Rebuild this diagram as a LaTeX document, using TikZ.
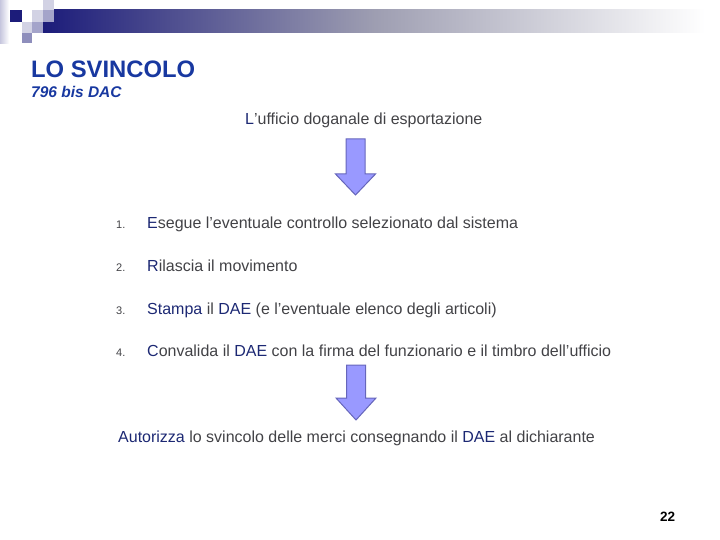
\documentclass[tikz,border=0pt]{standalone}
\usepackage{fontspec}
\setmainfont{Liberation Sans}
\usetikzlibrary{positioning}

\definecolor{titleblue}{RGB}{24,56,160}
\definecolor{keyblue}{RGB}{28,40,115}
\definecolor{bodygray}{RGB}{66,66,70}
\definecolor{bandnavy}{RGB}{28,28,122}
\definecolor{arrowfill}{RGB}{153,153,255}
\definecolor{arrowline}{RGB}{102,102,187}
\newcommand{\hl}[1]{\textcolor{keyblue}{#1}}

\begin{document}
\begin{tikzpicture}[x=1pt,y=-1pt,
						every node/.style={inner sep=0pt,anchor=base west,text=bodygray},
						body/.style={font=\fontsize{16}{19}\selectfont},
						num/.style={font=\fontsize{11}{13}\selectfont},
						blockarrow/.style={fill=arrowfill,draw=arrowline,line width=1pt,line join=miter}
						]
						\useasboundingbox (0,0) rectangle (720,540);
						% header band and squares
						\shade[left color=bandnavy,right color=white,middle color=bandnavy!35!gray!60] (43,10) rectangle (705,33);
						\shade[left color=bandnavy!25,right color=white] (0,0) rectangle (9,44);
						\fill[bandnavy] (10,10) rectangle (22,22);
						\fill[bandnavy!20] (32,10) rectangle (43,22);
						\fill[bandnavy!20] (43,0) rectangle (54,10);
						\fill[bandnavy!40] (43,10) rectangle (54,22);
						\fill[bandnavy!20] (22,22) rectangle (32,33);
						\fill[bandnavy!40] (32,22) rectangle (43,33);
						\fill[bandnavy!50] (22,33) rectangle (32,43);
						% titles
						\node[text=titleblue,font=\fontsize{23.8}{27}\selectfont\bfseries] (title) at (31,78) {LO SVINCOLO};
						\node[text=titleblue,font=\fontsize{15.5}{18}\selectfont\bfseries\itshape] (subtitle) at (31,98) {796 bis DAC};
						\node[body] (office) at (245,125) {\hl{L}’ufficio doganale di esportazione};
						% steps
						\node[num] (n1) at (116,229) {1.};
						\node[body] (s1) at (147,229) {\hl{E}segue l’eventuale controllo selezionato dal sistema};
						\node[num] (n2) at (116,271.5) {2.};
						\node[body] (s2) at (147,271.5) {\hl{R}ilascia il movimento};
						\node[num] (n3) at (116,314) {3.};
						\node[body] (s3) at (147,314) {\hl{Stampa} il \hl{DAE} (e l’eventuale elenco degli articoli)};
						\node[num] (n4) at (116,356.5) {4.};
						\node[body] (s4) at (147,356.5) {\hl{C}onvalida il \hl{DAE} con la firma del funzionario e il timbro dell’ufficio};
						\node[body] (release) at (118,442) {\hl{Autorizza} lo svincolo delle merci consegnando il \hl{DAE} al dichiarante};
						\node[text=black,font=\fontsize{13.5}{16}\selectfont\bfseries] (page) at (660,521) {22};
						% block arrows
						\coordinate (a1) at (355.5,139);
						\coordinate (a2) at (356,365);
						\draw[blockarrow] (a1) ++(-9.5,0) -- ++(19,0) -- ++(0,35) -- ++(10.5,0) -- ++(-20,21) -- ++(-20,-21) -- ++(10.5,0) -- cycle;
						\draw[blockarrow] (a2) ++(-9.5,0) -- ++(19,0) -- ++(0,33) -- ++(10.5,0) -- ++(-20,22) -- ++(-20,-22) -- ++(10.5,0) -- cycle;
						\end{tikzpicture}
\end{document}
